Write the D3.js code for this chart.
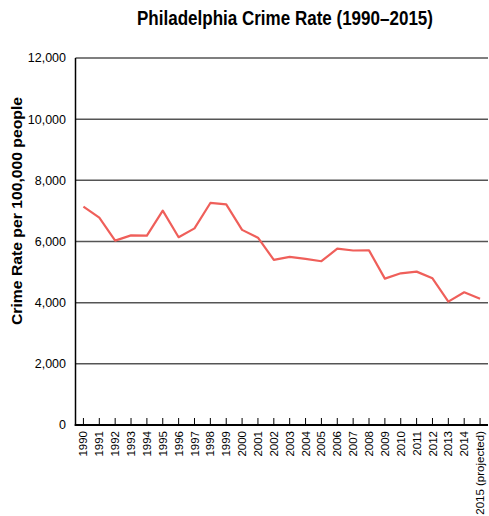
<!DOCTYPE html>
<html>
<head>
<meta charset="utf-8">
<script src="https://cdn.jsdelivr.net/npm/d3@7/dist/d3.min.js"></script>
<style>
  html, body { margin: 0; padding: 0; background: #fff; }
  svg { display: block; }
</style>
</head>
<body>
<svg id="chart" width="489" height="516"></svg>
<script>
// Philadelphia crime rate per 100,000 people, 1990–2015
const years = ["1990","1991","1992","1993","1994","1995","1996","1997","1998","1999",
  "2000","2001","2002","2003","2004","2005","2006","2007","2008","2009",
  "2010","2011","2012","2013","2014","2015 (projected)"];
const crimeRate = [7140, 6780, 6030, 6200, 6190, 7010, 6140, 6430, 7260, 7215,
  6380, 6125, 5400, 5495, 5430, 5355, 5765, 5705, 5710, 4785,
  4960, 5015, 4795, 4035, 4340, 4130];
const yTicks = [0, 2000, 4000, 6000, 8000, 10000, 12000];

const svg = d3.select("#chart");
const W = 489, H = 516;
const m = { left: 75.5, right: 1, top: 58, bottom: 91 };

const x = d3.scalePoint().domain(years).range([m.left, W - m.right]).padding(0.5);
const y = d3.scaleLinear().domain([0, 12000]).range([H - m.bottom, m.top]);

const font = "'Liberation Sans', Arial, Helvetica, sans-serif";

// Title (condensed bold)
svg.append("text")
  .attr("x", 285).attr("y", 25)
  .attr("text-anchor", "middle")
  .attr("textLength", 296).attr("lengthAdjust", "spacingAndGlyphs")
  .style("font-family", font).style("font-weight", "bold").style("font-size", "20px")
  .text("Philadelphia Crime Rate (1990–2015)");

// Horizontal gridlines
svg.append("g").selectAll("line")
  .data(yTicks.filter(d => d > 0))
  .join("line")
  .attr("x1", m.left).attr("x2", W - m.right)
  .attr("y1", d => y(d)).attr("y2", d => y(d))
  .attr("stroke", "#555").attr("stroke-width", 1.5);

// Y axis tick labels
svg.append("g").selectAll("text")
  .data(yTicks)
  .join("text")
  .attr("x", 66).attr("y", d => y(d))
  .attr("dy", "0.35em")
  .attr("text-anchor", "end")
  .style("font-family", font).style("font-size", "12.5px")
  .text(d => d3.format(",")(d));

// Y axis title (condensed bold)
svg.append("text")
  .attr("transform", "translate(22,211) rotate(-90)")
  .attr("text-anchor", "middle")
  .attr("textLength", 228).attr("lengthAdjust", "spacingAndGlyphs")
  .style("font-family", font).style("font-weight", "bold").style("font-size", "15px")
  .text("Crime Rate per 100,000 people");

// X ticks (pointing up into the plot)
svg.append("g").selectAll("line")
  .data(years)
  .join("line")
  .attr("x1", d => x(d)).attr("x2", d => x(d))
  .attr("y1", y(0)).attr("y2", y(0) - 7)
  .attr("stroke", "#000").attr("stroke-width", 1);

// X tick labels, rotated
svg.append("g").selectAll("text")
  .data(years)
  .join("text")
  .attr("transform", d => `translate(${x(d)},${y(0) + 6}) rotate(-90)`)
  .attr("dy", "0.35em")
  .attr("text-anchor", "end")
  .style("font-family", font).style("font-size", "11.5px")
  .text(d => d);

// Axis lines
svg.append("line")
  .attr("x1", m.left).attr("x2", m.left)
  .attr("y1", y(12000)).attr("y2", y(0) + 1)
  .attr("stroke", "#000").attr("stroke-width", 1.5);
svg.append("line")
  .attr("x1", m.left - 0.75).attr("x2", W - m.right)
  .attr("y1", y(0)).attr("y2", y(0))
  .attr("stroke", "#000").attr("stroke-width", 2);

// Crime rate line
svg.append("path")
  .datum(crimeRate)
  .attr("fill", "none")
  .attr("stroke", "#ef5f5a")
  .attr("stroke-width", 2.2)
  .attr("stroke-linejoin", "round")
  .attr("d", d3.line().x((d, i) => x(years[i])).y(d => y(d)));
</script>
</body>
</html>
